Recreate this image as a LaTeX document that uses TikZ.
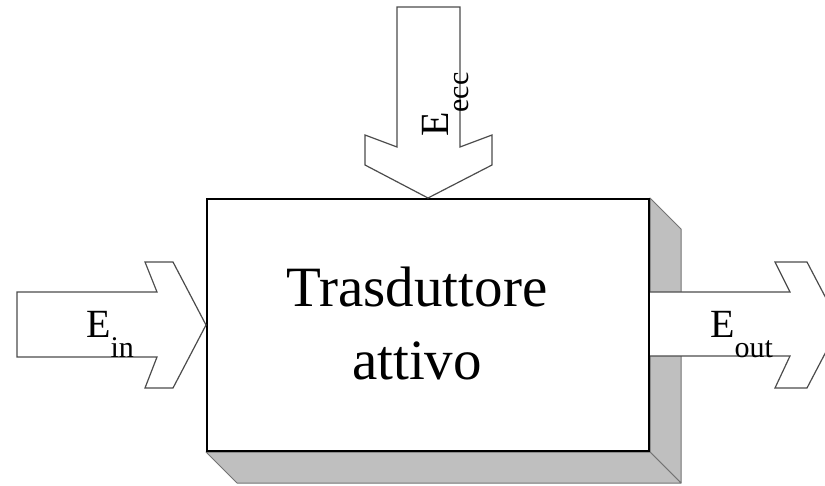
\documentclass[tikz,border=0pt]{standalone}
\usepackage{fontspec}
\setmainfont{Liberation Serif}
\usetikzlibrary{calc,backgrounds}

\def\shadowsep{31}
\newcommand{\sub}[1]{\raisebox{-20pt}{\fontsize{30}{30}\selectfont #1}}

\begin{document}
\begin{tikzpicture}[x=1pt,y=-1pt]
    \tikzstyle{shadow face}=[fill=black!25,draw=black!55,line width=1pt,line join=round]
    \tikzstyle{block arrow}=[fill=white,draw=black!70,line width=1.2pt,line join=miter]
    \tikzstyle{transducer}=[draw=black,line width=2pt,fill=white,minimum width=442pt,minimum height=252pt,inner sep=0pt]
    \tikzstyle{energy}=[inner sep=0pt,font=\fontsize{40}{40}\selectfont]

    \useasboundingbox (0,0) rectangle (825,486);
    \clip (0,0) rectangle (825,486);

    \node[transducer] (box) at (428,325) {};
    \node[align=center,font=\fontsize{57}{73}\selectfont] (name) at (417,324) {Trasduttore\\attivo};

    \begin{scope}[on background layer]
        \clip (0,0) rectangle (825,486);
        % side and bottom faces
        \draw[shadow face] (box.north east) -- ++(\shadowsep,\shadowsep)
            -- ($(box.south east)+(\shadowsep,\shadowsep)$) -- (box.south east) -- cycle;
        \draw[shadow face] (box.south west) -- ++(\shadowsep,\shadowsep)
            -- ($(box.south east)+(\shadowsep,\shadowsep)$) -- (box.south east) -- cycle;
        % outgoing energy, open on the box side
        \draw[block arrow] (box.east |- 0,292) -- (790,292) -- (775,262) -- (807,262) -- (840,325)
            -- (807,388) -- (775,388) -- (790,356) -- (box.east |- 0,356);
    \end{scope}

    % incoming energy
    \draw[block arrow] (17,292) -- (157,292) -- (145,262) -- (173,262) -- (box.west)
        -- (173,388) -- (145,388) -- (157,357) -- (17,357) -- cycle;
    % excitation energy
    \draw[block arrow] (397,7) -- (460,7) -- (460,147) -- (492,135) -- (492,165) -- (box.north)
        -- (365,165) -- (365,135) -- (397,147) -- cycle;

    \node[energy,anchor=base west] (ein) at (86,338) {E\sub{in}};
    \node[energy,anchor=base west] (eout) at (710,338) {E\sub{out}};
    \node[energy,anchor=base west,rotate=90] (eecc) at (448,137) {E\sub{ecc}};

\end{tikzpicture}
\end{document}
